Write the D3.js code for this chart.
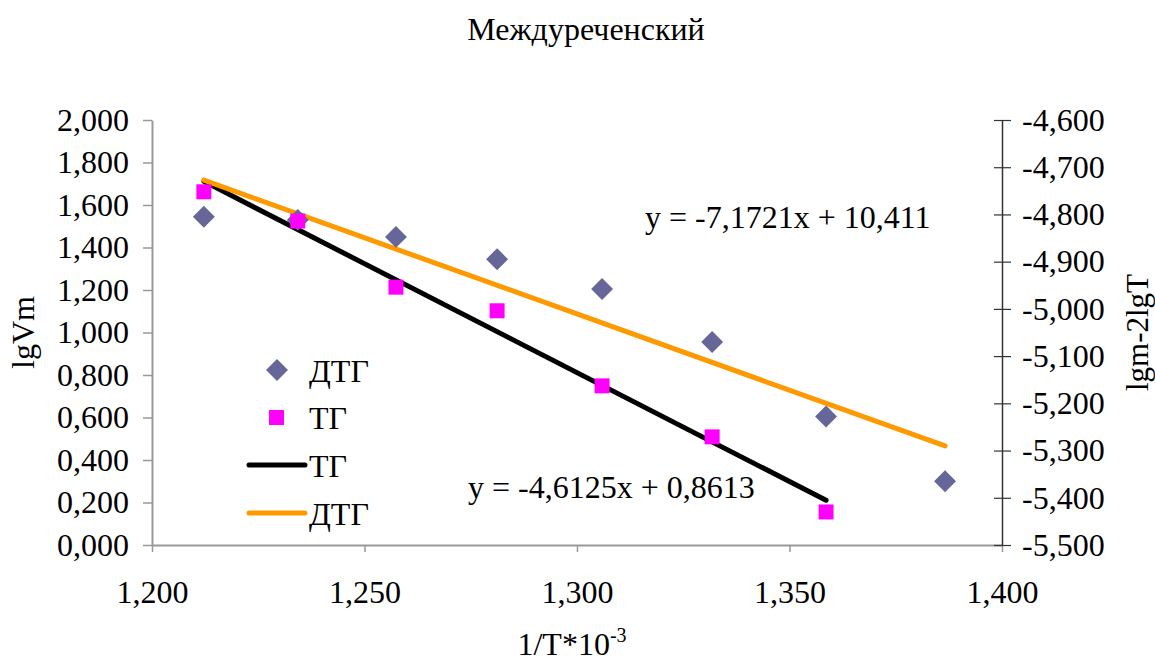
<!DOCTYPE html>
<html>
<head>
<meta charset="utf-8">
<script src="https://d3js.org/d3.v7.min.js"></script>
<style>
  body { margin: 0; background: #fff; }
  text { font-family: "Liberation Serif", "Times New Roman", serif; fill: #000; }
</style>
</head>
<body>
<script>
    // Data
    var dtgX = [1.2122, 1.2343, 1.2574, 1.2812, 1.3059, 1.3318, 1.3586, 1.3866];
    var dtgY = [1.545, 1.530, 1.450, 1.345, 1.205, 0.955, 0.605, 0.300];   // left axis
    var tgX  = [1.2122, 1.2343, 1.2574, 1.2812, 1.3059, 1.3318, 1.3586];
    var tgY  = [-4.752, -4.814, -4.954, -5.004, -5.163, -5.271, -5.430];    // right axis

    // trendlines (from the equations shown)
    var tgTrend  = {a: -4.6125, b: 0.8613, x0: 1.2122, x1: 1.3586};
    var dtgTrend = {a: -7.1721, b: 10.411, x0: 1.2122, x1: 1.3866};

    var xTicks = [1.2, 1.25, 1.3, 1.35, 1.4];
    var yLeftTicks = d3.range(0, 2.0001, 0.2);
    var yRightTicks = d3.range(-5.5, -4.5999, 0.1);

    var W = 1155, H = 664;
    var margin = {top: 120, right: 153, bottom: 119, left: 152};
    var width = W - margin.left - margin.right,
        height = H - margin.top - margin.bottom;

    var x = d3.scaleLinear().domain([1.2, 1.4]).range([0, width]);
    var yL = d3.scaleLinear().domain([0, 2]).range([height, 0]);
    var yR = d3.scaleLinear().domain([-5.5, -4.6]).range([height, 0]);

    var fmt3 = function(v) { return d3.format(".3f")(v).replace(".", ",").replace("−", "-"); };
    var FS = "32px";

    var svg = d3.select("body").append("svg")
        .attr("width", W).attr("height", H);

    // Title
    svg.append("text")
        .attr("x", 586).attr("y", 40)
        .attr("text-anchor", "middle")
        .style("font-size", FS)
        .text("Междуреченский");

    var g = svg.append("g")
        .attr("transform", "translate(" + margin.left + "," + margin.top + ")");

    // X axis
    var xAxis = g.append("g")
        .attr("transform", "translate(0," + height + ")")
        .call(d3.axisBottom(x).tickValues(xTicks).tickFormat(fmt3).tickSize(7).tickSizeOuter(0));
    xAxis.select(".domain").attr("stroke", "#999").attr("stroke-width", 2);
    xAxis.selectAll(".tick line").attr("stroke", "#999").attr("stroke-width", 1.5);
    xAxis.selectAll("text").style("font-size", FS).style("font-family", "Liberation Serif")
        .attr("y", 58).attr("dy", 0);

    // Left axis
    var lAxis = g.append("g")
        .call(d3.axisLeft(yL).tickValues(yLeftTicks).tickFormat(fmt3).tickSize(9).tickSizeOuter(0));
    lAxis.select(".domain").attr("stroke", "#999").attr("stroke-width", 2);
    lAxis.selectAll(".tick line").attr("stroke", "#999").attr("stroke-width", 1.5);
    lAxis.selectAll("text").style("font-size", FS).style("font-family", "Liberation Serif").attr("x", -23);

    // Right axis
    var rAxis = g.append("g")
        .attr("transform", "translate(" + width + ",0)")
        .call(d3.axisRight(yR).tickValues(yRightTicks).tickFormat(fmt3).tickSize(9).tickSizeOuter(0));
    rAxis.select(".domain").attr("stroke", "#333").attr("stroke-width", 1.5);
    rAxis.selectAll(".tick line").attr("stroke", "#333").attr("x1", -8).attr("stroke-width", 1.2);
    rAxis.selectAll("text").style("font-size", FS).style("font-family", "Liberation Serif").attr("x", 20);

    // Axis titles
    svg.append("text")
        .attr("transform", "translate(34," + (margin.top + height / 2) + ") rotate(-90)")
        .attr("text-anchor", "middle")
        .style("font-size", FS)
        .text("lgVm");

    svg.append("text")
        .attr("transform", "translate(1148," + (margin.top + height / 2) + ") rotate(-90)")
        .attr("text-anchor", "middle")
        .style("font-size", "31px")
        .text("lgm-2lgT");

    var xl = svg.append("text")
        .attr("x", 572).attr("y", 655)
        .attr("text-anchor", "middle")
        .style("font-size", FS);
    xl.append("tspan").text("1/T*10");
    xl.append("tspan").attr("dy", -13).style("font-size", "20px").text("-3");

    // Trendlines
    var lineL = d3.line().x(function(d) { return x(d); })
        .y(function(d) { return yL(dtgTrend.a * d + dtgTrend.b); });
    var lineR = d3.line().x(function(d) { return x(d); })
        .y(function(d) { return yR(tgTrend.a * d + tgTrend.b); });

    g.append("path").datum([tgTrend.x0, tgTrend.x1])
        .attr("d", lineR).attr("fill", "none")
        .attr("stroke", "#000").attr("stroke-width", 5).attr("stroke-linecap", "round");

    g.append("path").datum([dtgTrend.x0, dtgTrend.x1])
        .attr("d", lineL).attr("fill", "none")
        .attr("stroke", "#ff9900").attr("stroke-width", 5).attr("stroke-linecap", "round");

    // DTG diamonds
    var diamond = d3.symbol().type(d3.symbolSquare).size(240);
    g.selectAll(".dtg").data(dtgX).enter().append("path")
        .attr("class", "dtg")
        .attr("d", diamond)
        .attr("transform", function(d, i) { return "translate(" + x(d) + "," + yL(dtgY[i]) + ") rotate(45)"; })
        .attr("fill", "#666699");

    // TG squares
    var sq = 15;
    g.selectAll(".tg").data(tgX).enter().append("rect")
        .attr("class", "tg")
        .attr("x", function(d) { return x(d) - sq / 2; })
        .attr("y", function(d, i) { return yR(tgY[i]) - sq / 2; })
        .attr("width", sq).attr("height", sq)
        .attr("fill", "#ff00ff");

    // Equations
    g.append("text").attr("x", 493).attr("y", 108)
        .style("font-size", FS).text("y = -7,1721x + 10,411");
    g.append("text").attr("x", 316).attr("y", 378)
        .style("font-size", FS).text("y = -4,6125x + 0,8613");

    // Legend
    var leg = svg.append("g");
    leg.append("path").attr("d", diamond)
        .attr("transform", "translate(277,370) rotate(45)").attr("fill", "#666699");
    leg.append("rect").attr("x", 269).attr("y", 410).attr("width", sq).attr("height", sq).attr("fill", "#ff00ff");
    leg.append("line").attr("x1", 249).attr("x2", 305).attr("y1", 465).attr("y2", 465)
        .attr("stroke", "#000").attr("stroke-width", 5).attr("stroke-linecap", "round");
    leg.append("line").attr("x1", 249).attr("x2", 305).attr("y1", 513).attr("y2", 513)
        .attr("stroke", "#ff9900").attr("stroke-width", 5).attr("stroke-linecap", "round");
    var legText = ["ДТГ", "ТГ", "ТГ", "ДТГ"];
    var legY = [382, 429, 477, 525];
    legText.forEach(function(t, i) {
        leg.append("text").attr("x", 309).attr("y", legY[i]).style("font-size", FS).text(t);
    });
</script>
</body>
</html>
